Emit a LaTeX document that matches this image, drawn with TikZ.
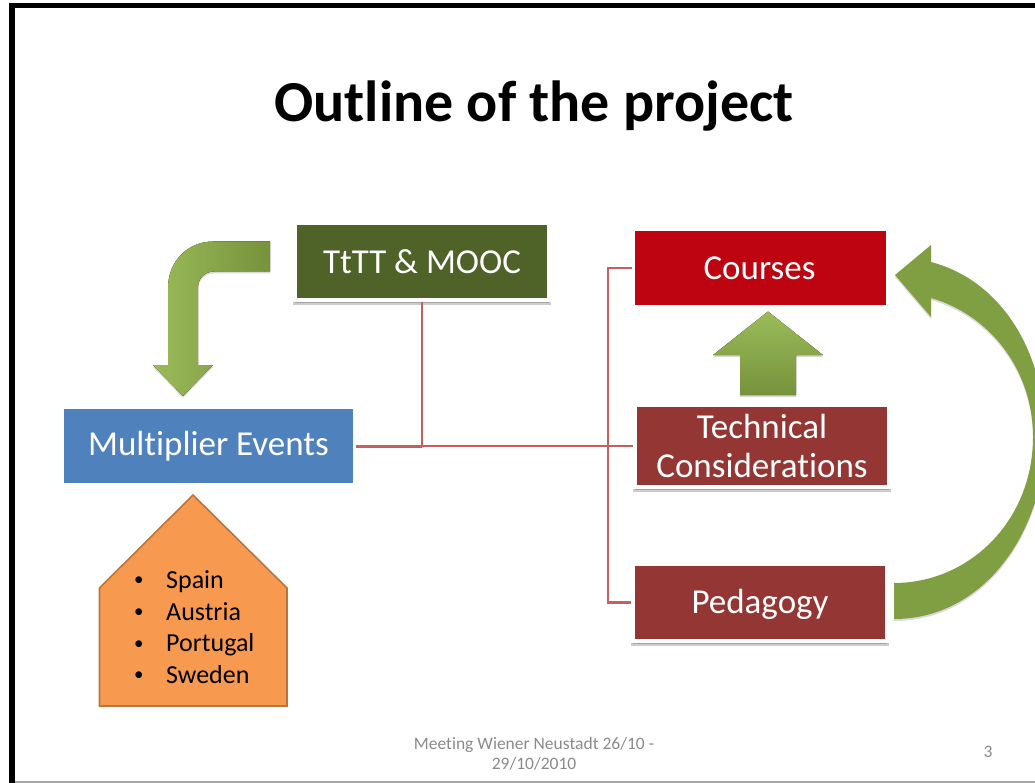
\documentclass[tikz,border=0pt]{standalone}
\usepackage{fontspec}
\setmainfont[Ligatures=NoCommon]{Carlito}
\definecolor{olivebox}{HTML}{4F6228}
\definecolor{redbox}{HTML}{BE0410}
\definecolor{brownbox}{HTML}{943634}
\definecolor{bluebox}{HTML}{4F81BD}
\definecolor{orangebox}{HTML}{F79A4F}
\definecolor{orangeedge}{HTML}{B8763F}
\definecolor{linkred}{HTML}{C4605E}
\definecolor{lightgreen}{HTML}{9BBB59}
\definecolor{darkgreen}{HTML}{76923C}
\definecolor{curvegreen}{HTML}{7F9F42}
\definecolor{footgrey}{HTML}{8A8A8A}
\tikzset{
  x=1pt,y=-1pt,
  flatbox/.style={minimum width=#1,minimum height=74pt,inner sep=0pt,text=white,align=center,
    font=\fontsize{35}{38.5}\selectfont},
  flatbox/.default=250pt,
  framedbox/.style={flatbox=#1,draw=white,line width=4pt,
    preaction={draw=black,draw opacity=0.2,fill=black,fill opacity=0.2,line width=4pt,transform canvas={yshift=-3pt}}},
  framedbox/.default=254pt,
  link/.style={draw=linkred,line width=2.2pt},
  softshadow/.style={fill=black,fill opacity=0.15,transform canvas={yshift=-2pt}},
  footer/.style={text=footgrey,align=center,font=\fontsize{17.5}{20}\selectfont}
}
\newcommand{\smallbullet}{\makebox[32pt][l]{\fontsize{19}{19}\selectfont\raisebox{2.5pt}{•}}}
\begin{document}
\begin{tikzpicture}
\useasboundingbox (0,0) rectangle (1035,783);
% slide frame
\fill[black!35] (0,781) rectangle (1035,783);
\fill[white] (0,781) rectangle (9,783);
\fill[black] (9,3.5) rectangle (1035,8);
\fill[black] (9,3.5) rectangle (15,783);

% title
\node[font=\bfseries\fontsize{58}{66}\selectfont] (title) at (534,106) {Outline of the project};

% boxes
\node[framedbox=254pt,fill=olivebox,minimum height=77pt] (ttt) at (422,261.5) {TtTT \& MOOC};
\node[flatbox=251pt,fill=redbox] (courses) at (760.5,268) {\hspace{-2pt}Courses};
\node[framedbox=254pt,fill=brownbox,minimum height=82pt] (tech) at (762,446) {Technical\\Considerations};
\node[framedbox=254pt,fill=brownbox,minimum height=77pt] (ped) at (760,602.5) {\rule{0pt}{29pt}Pedagogy};
\node[flatbox=289pt,fill=bluebox] (multi) at (208.5,446) {Multiplier Events};

% connectors
\coordinate (junction) at (ttt.south |- multi.east);
\coordinate (busTop) at (608,268);
\coordinate (busBottom) at (608,602.5);
\draw[link,line width=3pt,shorten <=3pt] (multi.east) -- (junction);
\draw[link] (junction) -- (tech.west);
\draw[link] (ttt.south) -- (junction);
\draw[link,shorten <=3pt] (courses.west) -- (busTop) -- (busBottom) -- (ped.west);

% bent arrow
\def\bentarrow{(270,241.5) -- (270,271.5) -- (214,271.5) .. controls (205,271.5) and (198,278) .. (198,288)
  -- (198,365) -- (213,365) -- (183,396) -- (153,365) -- (168,365) -- (168,288)
  .. controls (168,261) and (188,241.5) .. (213,241.5) -- cycle}
\fill[softshadow] \bentarrow;
\fill[left color=lightgreen,right color=darkgreen] \bentarrow;

% straight arrow
\def\uparrow{(768,311.5) -- (823,355) -- (796,355) -- (796,395) -- (740,395) -- (740,355) -- (713,355) -- cycle}
\fill[softshadow] \uparrow;
\fill[top color=lightgreen,bottom color=darkgreen] \uparrow;

% curved arrow
\def\curvearrow{(894,583) .. controls (970,583) and (1033,520) .. (1033,437)
  .. controls (1033,370) and (990,315) .. (931,298) -- (931,317) -- (895,275) -- (931,245) -- (931,262)
  .. controls (1000,280) and (1045,350) .. (1045,437) .. controls (1045,530) and (985,619) .. (894,619) -- cycle}
\begin{scope}
\clip (0,0) rectangle (1035,783);
\fill[softshadow] \curvearrow;
\fill[curvegreen] \curvearrow;
\end{scope}

% house
\draw[fill=orangebox,draw=orangeedge,line width=1.6pt,line join=miter]
  (193,495) -- (287,588) -- (287,706) -- (99.5,706) -- (99.5,588) -- cycle;
\node[anchor=west,align=left,inner sep=0pt,font=\fontsize{26}{31.7}\selectfont] (list) at (134,627)
  {\smallbullet Spain\\\smallbullet Austria\\\smallbullet Portugal\\\smallbullet Sweden};

% footer
\node[footer] (foot) at (534,754) {Meeting Wiener Neustadt 26/10 -\\29/10/2010};
\node[footer] (num) at (988,752) {3};
\end{tikzpicture}
\end{document}
